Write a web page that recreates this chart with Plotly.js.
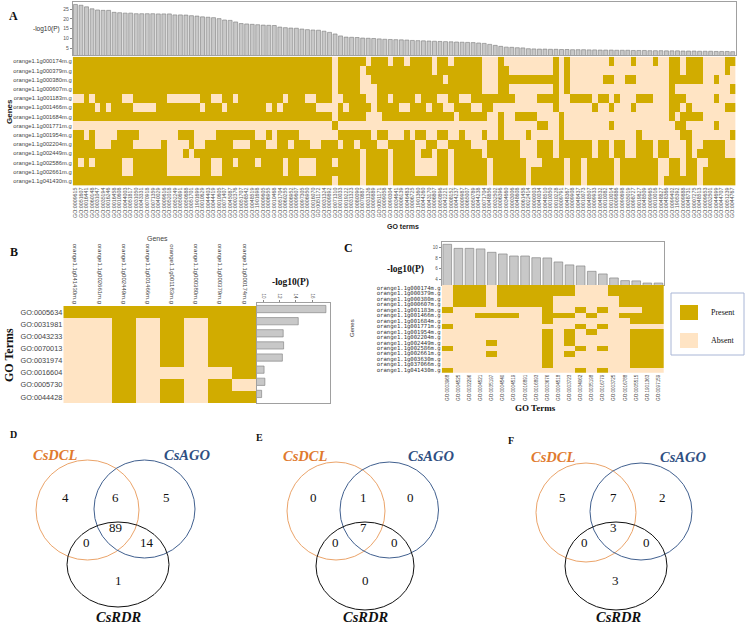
<!DOCTYPE html>
<html><head><meta charset="utf-8">
<script src="https://cdn.plot.ly/plotly-3.0.1.min.js"></script>
<style>html,body{margin:0;padding:0;background:#fff}#chart{width:745px;height:625px}</style>
</head><body><div id="chart"></div>
<script>
// ---------- DATA ----------
const aGenes = ['orange1.1g000174m.g','orange1.1g000379m.g','orange1.1g000380m.g','orange1.1g000607m.g','orange1.1g001183m.g','orange1.1g001466m.g','orange1.1g001684m.g','orange1.1g001771m.g','orange1.1g001954m.g','orange1.1g002204m.g','orange1.1g002449m.g','orange1.1g002586m.g','orange1.1g002661m.g','orange1.1g041430m.g'];
const aTerms = ['GO:0009615','GO:0051607','GO:0016441','GO:0060148','GO:0031047','GO:0035194','GO:0016246','GO:0016458','GO:0010608','GO:0044003',
'GO:0051817','GO:0031050','GO:0043331','GO:0070918','GO:0071359','GO:0040029','GO:0009616','GO:0052018','GO:0052249','GO:0050691',
'GO:0050688','GO:0051701','GO:1901699','GO:0010629','GO:0044403','GO:0044419','GO:0010605','GO:0071407','GO:0045087','GO:0002376',
'GO:0051707','GO:0098542','GO:0048519','GO:1901698','GO:0009605','GO:0006955','GO:0010468','GO:0051704','GO:0060255','GO:0006952',
'GO:0009607','GO:0097305','GO:0006950','GO:0016070','GO:0051172','GO:0031324','GO:0009892','GO:0071310','GO:0010033','GO:0019222',
'GO:0031323','GO:0080090','GO:0070887','GO:0031326','GO:0009889','GO:0051171','GO:0009058','GO:0090304','GO:0034641','GO:0006139',
'GO:0046483','GO:0006725','GO:1901360','GO:0044260','GO:0043170','GO:0006807','GO:0050896','GO:0042221','GO:0008152','GO:0044237',
'GO:0009987','GO:0065007','GO:0050789','GO:0044238','GO:0071704','GO:0048856','GO:0032502','GO:0006396','GO:0034660','GO:0003006',
'GO:0048608','GO:0061458','GO:0022414','GO:0000003','GO:0040034','GO:0048510','GO:0010050','GO:0010228','GO:0009791','GO:0048367',
'GO:0009908','GO:0048437','GO:0010073','GO:0048507','GO:0009933','GO:0048532','GO:0010082','GO:0010014','GO:0009886','GO:0090698',
'GO:0035019','GO:0098727','GO:0019827','GO:0048509','GO:0009965','GO:0010016','GO:0048827','GO:0048366','GO:0099402','GO:1905392',
'GO:0009888','GO:0048731','GO:0007275','GO:0048513','GO:0009653','GO:0032501','GO:0044699','GO:0044707','GO:0051239','GO:0044767'];
const aLogP = [27.3,26.9,26.1,25.1,24.5,24.3,24.3,23.3,23.1,22.9,22.9,22.6,22.6,22.6,22.6,22.5,22.5,22.5,22.0,22.0,21.9,21.6,21.4,21.0,20.8,20.6,20.1,19.4,19.2,18.4,
17.6,17.4,17.2,17.0,16.8,16.7,16.6,15.8,15.5,15.3,15.2,14.8,14.5,14.3,14.2,13.7,
13.1,12.3,11.3,10.7,
10.6,10.5,10.2,10.1,10.0,9.8,9.6,9.5,9.4,9.3,9.2,9.0,8.9,8.8,8.7,8.6,8.5,8.4,8.3,8.2,8.1,8.0,7.9,7.7,7.5,7.0,6.5,6.0,
5.6,5.5,5.3,5.2,4.8,4.7,4.6,4.6,4.5,4.5,4.4,4.4,4.3,4.3,4.3,4.2,4.2,4.1,4.1,4.1,4.0,4.0,4.0,3.9,3.9,3.9,3.8,3.8,3.8,3.7,3.7,3.7,3.6,3.6,3.6,3.5,3.5,3.5,3.4,3.4,3.4,3.3];
// 1 = Present, 0 = Absent (rows = aGenes, columns = aTerms)
const aMatrix = [
'1111111111 1111111111 1111111111 1111111111 1111111011 1110111011 0111101101 1111000100 0000000101 0000000100 0100010011 0111000011',
'1111111111 1111111111 1111111111 1111111111 1111111011 1101111111 1111101111 1111000110 0000000101 0000000000 0000000011 0111000010',
'1111111111 1111111111 1111111111 1111111111 1111111011 1100111111 1111111011 1111000111 1111111101 0000001100 1100000011 1111001000',
'1111111111 1111111111 1111111111 1111111111 1111111011 1100011111 1111111111 1111000110 0000000101 0000000000 0000000010 0000000001',
'0010111110 0111111000 0001100110 1111111101 1100111001 1110011011 1101110011 0011111111 0000111100 1111011010 0011100011 1000001000',
'1111010111 1000011111 1110111011 1111101011 1111000010 1111011110 0111011001 1100110000 0000000100 0000100100 0100000011 0100000011',
'1111111111 1111111111 1111111111 1111111111 1111111011 1110001111 1111111110 1111100100 1111000010 0000000000 0000000010 1111000000',
'0000000000 0000000000 0000000000 0000000000 0000000100 0000000000 0000000000 0000000100 0000110010 0000000100 0000000001 1000001000',
'1101000011 1100000001 1100001111 1110010111 1000000011 1111011000 1011001100 1000100100 0010000010 0000000000 0010000000 1100000001',
'1111000111 1000001000 0100111110 0011100110 1110011101 1011100111 1100110011 1100011111 1000111011 1111011011 0011101100 0100111100',
'1111111111 1111111000 1011111111 1111111111 1111111111 1101111011 1101101101 1111011111 1000111011 1111011011 0011101100 0101111100',
'1010111110 0111111000 0001100110 1110111101 1000111011 1101111011 1100001101 1111101111 1100011110 1101111101 1111110011 0110011111',
'1111111110 0111111000 0001100111 1111111101 1000111111 1101111011 1100001101 1111101111 1101111110 1101111101 1111110011 0110111111',
'1111111111 1111111111 1111111111 1111111111 1111111011 1101111011 1111111101 1111101111 1101111110 1101111101 1111110111 1110111111'];

const bTerms = ['GO:0005634','GO:0031981','GO:0043233','GO:0070013','GO:0031974','GO:0016604','GO:0005730','GO:0044428'];
const bGenes = ['orange1.1g041430m.g','orange1.1g002661m.g','orange1.1g002449m.g','orange1.1g001466m.g','orange1.1g001183m.g','orange1.1g000380m.g','orange1.1g000379m.g','orange1.1g000174m.g'];
const bLogP = [17.7,14.3,12.45,12.5,12.35,10.1,10.2,9.8];
const bMatrix = ['11111111','00101011','00101011','00101011','00101011','00100001','00101010','00101011'];

const cGenes = ['orange1.1g000174m.g','orange1.1g000379m.g','orange1.1g000380m.g','orange1.1g000607m.g','orange1.1g001183m.g','orange1.1g001466m.g','orange1.1g001684m.g','orange1.1g001771m.g','orange1.1g001954m.g','orange1.1g002204m.g','orange1.1g002449m.g','orange1.1g002586m.g','orange1.1g002661m.g','orange1.1g003630m.g','orange1.1g037066m.g','orange1.1g041430m.g'];
const cTerms = ['GO:0003968','GO:0004525','GO:0032296','GO:0004521','GO:0035197','GO:0004540','GO:0004519','GO:0016891','GO:0016893','GO:0003676','GO:0004518','GO:0003723','GO:0034062','GO:0035198','GO:0016779','GO:0003725','GO:0016788','GO:0005515','GO:1901363','GO:0097159'];
const cLogP = [10.56,9.8,9.8,9.7,9.06,8.75,8.37,8.37,8.05,8.0,7.25,6.7,6.5,5.5,5.0,4.25,3.75,3.7,3.3,3.3];
const cMatrix = ['01110111111100011111','01110111111100011111','01110111110000001111','01110111110000001111',
'10000000010010100011','00011110011101001111','00000000010000000111','10000000000010100000',
'00000000010101000111','00000000010100000111','00001000010100000111','10000000010010100111',
'00001000010100000111','00000000010000000111','00000000010000000111','10000000000010100000'];

const vennSets = ['CsDCL','CsAGO','CsRDR'];
// region order: DCL only, DCL&AGO, AGO only, all three, DCL&RDR, AGO&RDR, RDR only
const vennD = [4,6,5,89,0,14,1];
const vennE = [0,1,0,7,0,0,0];
const vennF = [5,7,2,3,0,0,3];

// ---------- LAYOUT HELPERS ----------
const W = 745, H = 625;
const X = p => p / W, Y = p => 1 - p / H;
const PRES = '#D1AC00', ABS = '#FFE4C4';
const cs = [[0, ABS], [0.5, ABS], [0.5, PRES], [1, PRES]];
const toZ = m => m.map(s => s.replace(/ /g, '').split('').map(Number));
const idx = n => Array.from({length: n}, (_, i) => i);
const SANS = 'Liberation Sans, Arial, sans-serif';
const SERIF = 'Liberation Serif, Times New Roman, serif';
const barStyle = {color: '#c8c8c8', line: {color: '#7a7a7a', width: 0.6}};

const traces = [
  {type: 'bar', x: idx(aTerms.length), y: aLogP, xaxis: 'x', yaxis: 'y', width: 0.72, marker: barStyle, hoverinfo: 'skip'},
  {type: 'heatmap', z: toZ(aMatrix), x: idx(aTerms.length), y: idx(aGenes.length), xaxis: 'x2', yaxis: 'y2', colorscale: cs, zmin: 0, zmax: 1, showscale: false, hoverinfo: 'skip'},
  {type: 'heatmap', z: toZ(bMatrix), x: idx(bGenes.length), y: idx(bTerms.length), xaxis: 'x3', yaxis: 'y3', colorscale: cs, zmin: 0, zmax: 1, showscale: false, hoverinfo: 'skip'},
  {type: 'bar', orientation: 'h', x: bLogP, y: idx(bTerms.length), xaxis: 'x4', yaxis: 'y4', width: 0.6, marker: barStyle, hoverinfo: 'skip'},
  {type: 'bar', x: idx(cTerms.length), y: cLogP, xaxis: 'x5', yaxis: 'y5', width: 0.78, marker: barStyle, hoverinfo: 'skip'},
  {type: 'heatmap', z: toZ(cMatrix), x: idx(cTerms.length), y: idx(cGenes.length), xaxis: 'x6', yaxis: 'y6', colorscale: cs, zmin: 0, zmax: 1, showscale: false, hoverinfo: 'skip'}
];

const frame = {showline: true, mirror: true, linecolor: '#a0a0a0', linewidth: 1, showgrid: false, zeroline: false};
const bare = {showgrid: false, zeroline: false, showline: false, ticks: ''};

const layout = {
  width: W, height: H, margin: {l: 0, r: 0, t: 0, b: 0},
  paper_bgcolor: '#fff', plot_bgcolor: 'rgba(0,0,0,0)', showlegend: false, bargap: 0,
  font: {family: SANS, color: '#333'},
  // A bars
  xaxis: Object.assign({}, frame, {domain: [X(72.7), X(735.5)], anchor: 'y', range: [-0.5, aTerms.length - 0.5], showticklabels: false, ticks: ''}),
  yaxis: Object.assign({}, frame, {domain: [Y(55), Y(2)], anchor: 'x', range: [1.6, 28.56], tickvals: [5, 10, 15, 20, 25], ticks: 'outside', ticklen: 2, tickcolor: '#888', tickfont: {size: 5, color: '#555'}}),
  // A heatmap
  xaxis2: Object.assign({}, bare, {domain: [X(72.7), X(735.5)], anchor: 'y2', range: [-0.5, aTerms.length - 0.5], tickvals: idx(aTerms.length), ticktext: aTerms, tickangle: -90, tickfont: {size: 5.3, color: '#555'}}),
  yaxis2: Object.assign({}, bare, {domain: [Y(185.5), Y(56.7)], anchor: 'x2', range: [aGenes.length - 0.5, -0.5], tickvals: idx(aGenes.length), ticktext: aGenes, tickfont: {size: 5.8, color: '#444'}}),
  // B heatmap
  xaxis3: Object.assign({}, bare, {domain: [X(63.3), X(256.7)], anchor: 'y3', side: 'top', range: [-0.5, bGenes.length - 0.5], tickvals: idx(bGenes.length), ticktext: bGenes, tickangle: 90, tickfont: {size: 6, color: '#444'}}),
  yaxis3: Object.assign({}, bare, {domain: [Y(403), Y(306)], anchor: 'x3', range: [bTerms.length - 0.5, -0.5], tickvals: idx(bTerms.length), ticktext: bTerms, tickfont: {size: 7.3, color: '#444'}}),
  // B bars
  xaxis4: Object.assign({}, frame, {domain: [X(257), X(330)], anchor: 'y4', side: 'top', range: [9.23, 18.2], tickvals: [10, 12, 14, 16], tickangle: 90, ticks: 'outside', ticklen: 2, tickcolor: '#888', tickfont: {size: 4.5, color: '#555'}}),
  yaxis4: Object.assign({}, frame, {domain: [Y(403), Y(303)], anchor: 'x4', range: [bTerms.length - 0.5 + 0.25, -0.5], showticklabels: false, ticks: ''}),
  // C bars
  xaxis5: Object.assign({}, frame, {domain: [X(441.7), X(664)], anchor: 'y5', range: [-0.5, cTerms.length - 0.5], showticklabels: false, ticks: ''}),
  yaxis5: Object.assign({}, frame, {domain: [Y(285), Y(241.7)], anchor: 'x5', range: [2.93, 11.05], tickvals: [4, 6, 8, 10], ticks: 'outside', ticklen: 2, tickcolor: '#888', tickfont: {size: 4.5, color: '#555'}}),
  // C heatmap
  xaxis6: Object.assign({}, bare, {domain: [X(441.7), X(664)], anchor: 'y6', range: [-0.5, cTerms.length - 0.5], tickvals: idx(cTerms.length), ticktext: cTerms, tickangle: -90, tickfont: {size: 4.6, color: '#444'}}),
  yaxis6: Object.assign({}, bare, {domain: [Y(372.7), Y(285)], anchor: 'x6', range: [cGenes.length - 0.5, -0.5], tickvals: idx(cGenes.length), ticktext: cGenes, tickfont: {size: 5.6, color: '#333', family: 'DejaVu Sans Mono, monospace'}})
};

const ann = [];
const txt = (x, y, text, size, opts) => ann.push(Object.assign({xref: 'paper', yref: 'paper', x: X(x), y: Y(y), text: text, showarrow: false, xanchor: 'center', yanchor: 'middle', font: {size: size, family: SERIF, color: '#111'}}, opts || {}));

// panel letters
txt(14, 16, '<b>A</b>', 12);
txt(14, 252, '<b>B</b>', 12);
txt(348, 248, '<b>C</b>', 12);
txt(14, 434, '<b>D</b>', 10);
txt(259, 437, '<b>E</b>', 10);
txt(511, 440, '<b>F</b>', 10);
// panel A texts
txt(62, 29, '-log10(P)', 6.5, {xanchor: 'right', font: {size: 6.5, family: SANS, color: '#333'}});
txt(9, 112, '<b>Genes</b>', 8, {textangle: -90, font: {size: 8, family: SANS, color: '#222'}});
txt(403, 227, '<b>GO terms</b>', 7, {font: {size: 7, family: SANS, color: '#222'}});
// panel B texts
txt(157, 238, 'Genes', 7, {font: {size: 7, family: SANS, color: '#444'}});
txt(290, 282, '<b>-log10(P)</b>', 9.5);
txt(9, 355, '<b>GO Terms</b>', 12, {textangle: -90});
// panel C texts
txt(405, 270, '<b>-log10(P)</b>', 9.5);
txt(352, 328, 'Genes', 6, {textangle: -90, font: {size: 6, family: SANS, color: '#333'}});
txt(535, 408, '<b>GO Terms</b>', 9);
txt(709, 312, 'Present', 8, {xanchor: 'left'});
txt(709, 340, 'Absent', 8, {xanchor: 'left'});

const shapes = [];
const rect = (x0, y0, x1, y1, fill, line) => shapes.push({type: 'rect', xref: 'paper', yref: 'paper', x0: X(x0), x1: X(x1), y0: Y(y1), y1: Y(y0), fillcolor: fill, line: line || {width: 0}, layer: 'above'});
rect(671, 293, 744, 355, 'rgba(0,0,0,0)', {color: '#a9b6d6', width: 1});
rect(680, 305, 698, 320, PRES);
rect(680, 333, 698, 348, ABS);

// Venn diagrams
const venns = [
  {counts: vennD, dcl: [36, 460, 139, 560], ago: [94, 460, 195, 558], rdr: [67, 522, 169, 607],
   lbl: [[55, 455], [187, 455], [118, 617]],
   pos: [[65, 497], [115, 498], [166, 497], [115, 527], [86.5, 542], [147, 542], [118, 580]]},
  {counts: vennE, dcl: [287, 462, 385, 560], ago: [340, 462, 438.5, 558], rdr: [316, 522, 414, 610],
   lbl: [[305, 456], [431, 456], [365, 617]],
   pos: [[313.5, 498], [363, 498], [410, 498], [363, 527], [335, 542], [394, 542], [365, 580]]},
  {counts: vennF, dcl: [536, 463, 636, 562], ago: [590, 463, 692, 560], rdr: [565, 522, 667, 610],
   lbl: [[553, 457], [683, 457], [618, 617]],
   pos: [[562.5, 498], [613, 498], [662.5, 498], [613, 527], [584, 542], [646.6, 542], [615, 580]]}
];
const setColors = ['#E07A2E', '#2F4F82', '#111'];
const ringColors = ['#EBA46A', '#41608F', '#111'];
venns.forEach(v => {
  [v.dcl, v.ago, v.rdr].forEach((c, i) => shapes.push({type: 'circle', xref: 'paper', yref: 'paper', x0: X(c[0]), x1: X(c[2]), y0: Y(c[3]), y1: Y(c[1]), line: {color: ringColors[i], width: 1}, fillcolor: 'rgba(0,0,0,0)'}));
  v.lbl.forEach((p, i) => txt(p[0], p[1], '<b><i>' + vennSets[i] + '</i></b>', 14.5, {font: {size: 14.5, family: SERIF, color: setColors[i]}}));
  v.counts.forEach((n, i) => txt(v.pos[i][0], v.pos[i][1], String(n), 13));
});

layout.annotations = ann;
layout.shapes = shapes;
Plotly.newPlot('chart', traces, layout, {staticPlot: true, displayModeBar: false});
</script></body></html>
